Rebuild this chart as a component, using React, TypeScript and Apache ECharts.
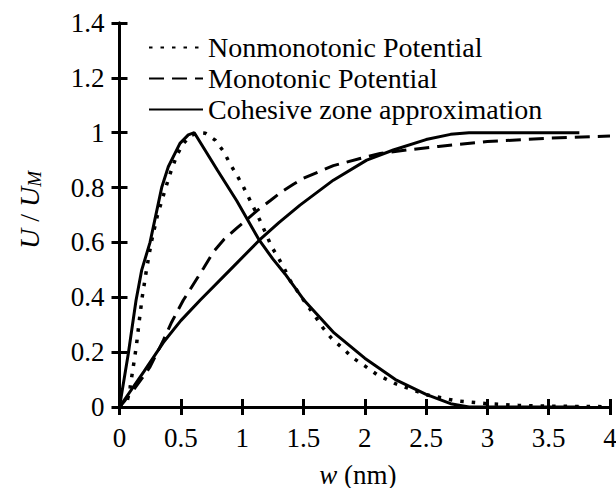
import React, { useEffect, useRef } from "react";
import * as echarts from "echarts";

const SERIES_NAMES = ["Nonmonotonic Potential", "Monotonic Potential", "Cohesive zone approximation"];
const X_TICKS = [0, 0.5, 1, 1.5, 2, 2.5, 3, 3.5, 4];
const X_TICK_LABELS = ["0", "0.5", "1", "1.5", "2", "2.5", "3", "3.5", "4"];
const Y_TICKS = [0, 0.2, 0.4, 0.6, 0.8, 1, 1.2, 1.4];
const Y_TICK_LABELS = ["0", "0.2", "0.4", "0.6", "0.8", "1", "1.2", "1.4"];
const X_TITLE = "{i|w}{n| (nm)}";
const Y_TITLE = "{i|U}{n| / }{i|U}{sub|M}";

const nonmonotonic: [number, number][] = [
  [0, 0], [0.06, 0.015], [0.086, 0.07], [0.11, 0.14], [0.137, 0.22], [0.16, 0.31],
  [0.185, 0.4], [0.22, 0.5], [0.259, 0.6], [0.31, 0.7], [0.377, 0.8], [0.42, 0.86],
  [0.47, 0.92], [0.52, 0.96], [0.58, 0.99], [0.65, 1.0], [0.7, 0.998], [0.78, 0.973],
  [0.85, 0.931], [0.9, 0.888], [0.956, 0.846], [1.01, 0.803], [1.064, 0.754], [1.146, 0.68],
  [1.24, 0.585], [1.3, 0.54], [1.35, 0.499], [1.39, 0.462], [1.53, 0.371], [1.6, 0.328],
  [1.66, 0.288], [1.73, 0.25], [1.83, 0.21], [1.9, 0.18], [2.0, 0.15], [2.1, 0.118],
  [2.25, 0.085], [2.5, 0.045], [2.75, 0.022], [3.0, 0.012], [3.25, 0.006], [3.5, 0.003],
  [4.0, 0.001],
];

const monotonic: [number, number][] = [
  [0, 0], [0.045, 0.024], [0.113, 0.061], [0.249, 0.146], [0.357, 0.243], [0.426, 0.31],
  [0.52, 0.389], [0.684, 0.505], [0.765, 0.565], [0.85, 0.61], [0.956, 0.652], [1.12, 0.715],
  [1.228, 0.752], [1.323, 0.785], [1.418, 0.812], [1.5, 0.834], [1.744, 0.88], [1.962, 0.906],
  [2.125, 0.924], [2.343, 0.937], [2.6, 0.95], [3.0, 0.968], [3.5, 0.98], [4.0, 0.988],
];

const cohesivePeak: [number, number][] = [
  [0, 0], [0.072, 0.195], [0.135, 0.389], [0.181, 0.499], [0.249, 0.6], [0.344, 0.8],
  [0.398, 0.876], [0.493, 0.961], [0.561, 0.992], [0.61, 1.0], [0.8, 0.862], [0.956, 0.752],
  [1.14, 0.608], [1.25, 0.54], [1.35, 0.485], [1.5, 0.392], [1.75, 0.27], [2.0, 0.178],
  [2.25, 0.1], [2.5, 0.046], [2.7, 0.012], [2.85, 0], [3.75, 0],
];

const cohesiveRise: [number, number][] = [
  [0, 0], [0.2, 0.13], [0.357, 0.235], [0.5, 0.315], [0.657, 0.389], [0.9, 0.499],
  [1.14, 0.608], [1.3, 0.672], [1.472, 0.736], [1.744, 0.827], [2.016, 0.9], [2.233, 0.937],
  [2.5, 0.975], [2.7, 0.994], [2.85, 1.0], [3.75, 1.0],
];

const FONT = "'Liberation Serif', 'Times New Roman', serif";

export default function App() {
  const ref = useRef<HTMLDivElement>(null);
  useEffect(() => {
    if (!ref.current) return;
    const chart = echarts.init(ref.current, null, { renderer: "svg" });
    const axisCommon = {
      min: 0,
      axisLine: { show: true, lineStyle: { color: "#000", width: 3 } },
      axisTick: { show: true, inside: true, length: 8, lineStyle: { color: "#000", width: 3 } },
      splitLine: { show: false },
    };
    const xFmt = (v: number) => X_TICK_LABELS[X_TICKS.findIndex((t) => Math.abs(t - v) < 1e-9)] ?? String(v);
    const yFmt = (v: number) => Y_TICK_LABELS[Y_TICKS.findIndex((t) => Math.abs(t - v) < 1e-9)] ?? String(v);
    const lineBase = { type: "line", showSymbol: false, symbol: "none", smooth: false };
    chart.setOption({
      animation: false,
      backgroundColor: "#fff",
      textStyle: { fontFamily: FONT },
      grid: { left: 119.5, right: 6, top: 23, bottom: 81, containLabel: false, outerBoundsMode: "none" },
      legend: {
        orient: "vertical",
        left: 148,
        top: 32,
        padding: 0,
        itemGap: 0,
        itemWidth: 54,
        itemHeight: 20,
        data: SERIES_NAMES,
        itemStyle: { opacity: 0 },
        textStyle: { fontFamily: FONT, fontSize: 28, color: "#000", lineHeight: 31 },
      },
      xAxis: [
        {
          ...axisCommon,
          type: "value",
          position: "bottom",
          max: X_TICKS[X_TICKS.length - 1],
          interval: X_TICKS[1] - X_TICKS[0],
          axisLabel: { color: "#000", fontFamily: FONT, fontSize: 27, margin: 17, formatter: xFmt },
          name: X_TITLE,
          nameLocation: "middle",
          nameGap: 54,
          nameTextStyle: {
            fontFamily: FONT,
            fontSize: 27,
            padding: [0, 14, 0, 0],
            rich: {
              i: { fontFamily: FONT, fontSize: 27, fontStyle: "italic", color: "#000", lineHeight: 27 },
              n: { fontFamily: FONT, fontSize: 27, color: "#000", lineHeight: 27 },
            },
          },
        },
        {
          ...axisCommon,
          type: "value",
          position: "top",
          max: X_TICKS[X_TICKS.length - 1],
          interval: X_TICKS[1] - X_TICKS[0],
          axisLabel: { show: false },
        },
      ],
      yAxis: [
        {
          ...axisCommon,
          type: "value",
          position: "left",
          max: Y_TICKS[Y_TICKS.length - 1],
          interval: 0.2,
          axisLabel: { color: "#000", fontFamily: FONT, fontSize: 27, margin: 15, padding: [4, 0, 0, 0], formatter: yFmt },
          name: Y_TITLE,
          nameLocation: "middle",
          nameGap: 76,
          nameRotate: 90,
          nameTextStyle: {
            fontFamily: FONT,
            fontSize: 28,
            padding: [0, 0, 0, 10],
            rich: {
              i: { fontFamily: FONT, fontSize: 28, fontStyle: "italic", color: "#000", verticalAlign: "top", lineHeight: 28 },
              n: { fontFamily: FONT, fontSize: 28, color: "#000", verticalAlign: "top", lineHeight: 28 },
              sub: { fontFamily: FONT, fontSize: 19, fontStyle: "italic", color: "#000", verticalAlign: "bottom", lineHeight: 19, padding: [26, 0, 0, 0] },
            },
          },
        },
        {
          ...axisCommon,
          type: "value",
          position: "right",
          max: Y_TICKS[Y_TICKS.length - 1],
          interval: 0.2,
          axisLabel: { show: false },
        },
      ],
      series: [
        {
          ...lineBase,
          name: SERIES_NAMES[0],
          data: nonmonotonic,
          lineStyle: { color: "#000", width: 3.5, type: [3.5, 8], cap: "butt" },
          itemStyle: { color: "#000" },
        },
        {
          ...lineBase,
          name: SERIES_NAMES[1],
          data: monotonic,
          lineStyle: { color: "#000", width: 3, type: [15, 8] },
          itemStyle: { color: "#000" },
        },
        {
          ...lineBase,
          name: SERIES_NAMES[2],
          data: cohesivePeak,
          lineStyle: { color: "#000", width: 3, type: "solid" },
          itemStyle: { color: "#000" },
        },
        {
          ...lineBase,
          name: SERIES_NAMES[2],
          data: cohesiveRise,
          lineStyle: { color: "#000", width: 3, type: "solid" },
          itemStyle: { color: "#000" },
        },
      ],
    });
    return () => chart.dispose();
  }, []);
  return <div ref={ref} style={{ width: 616, height: 488, position: "absolute", left: 0, top: 0 }} />;
}
